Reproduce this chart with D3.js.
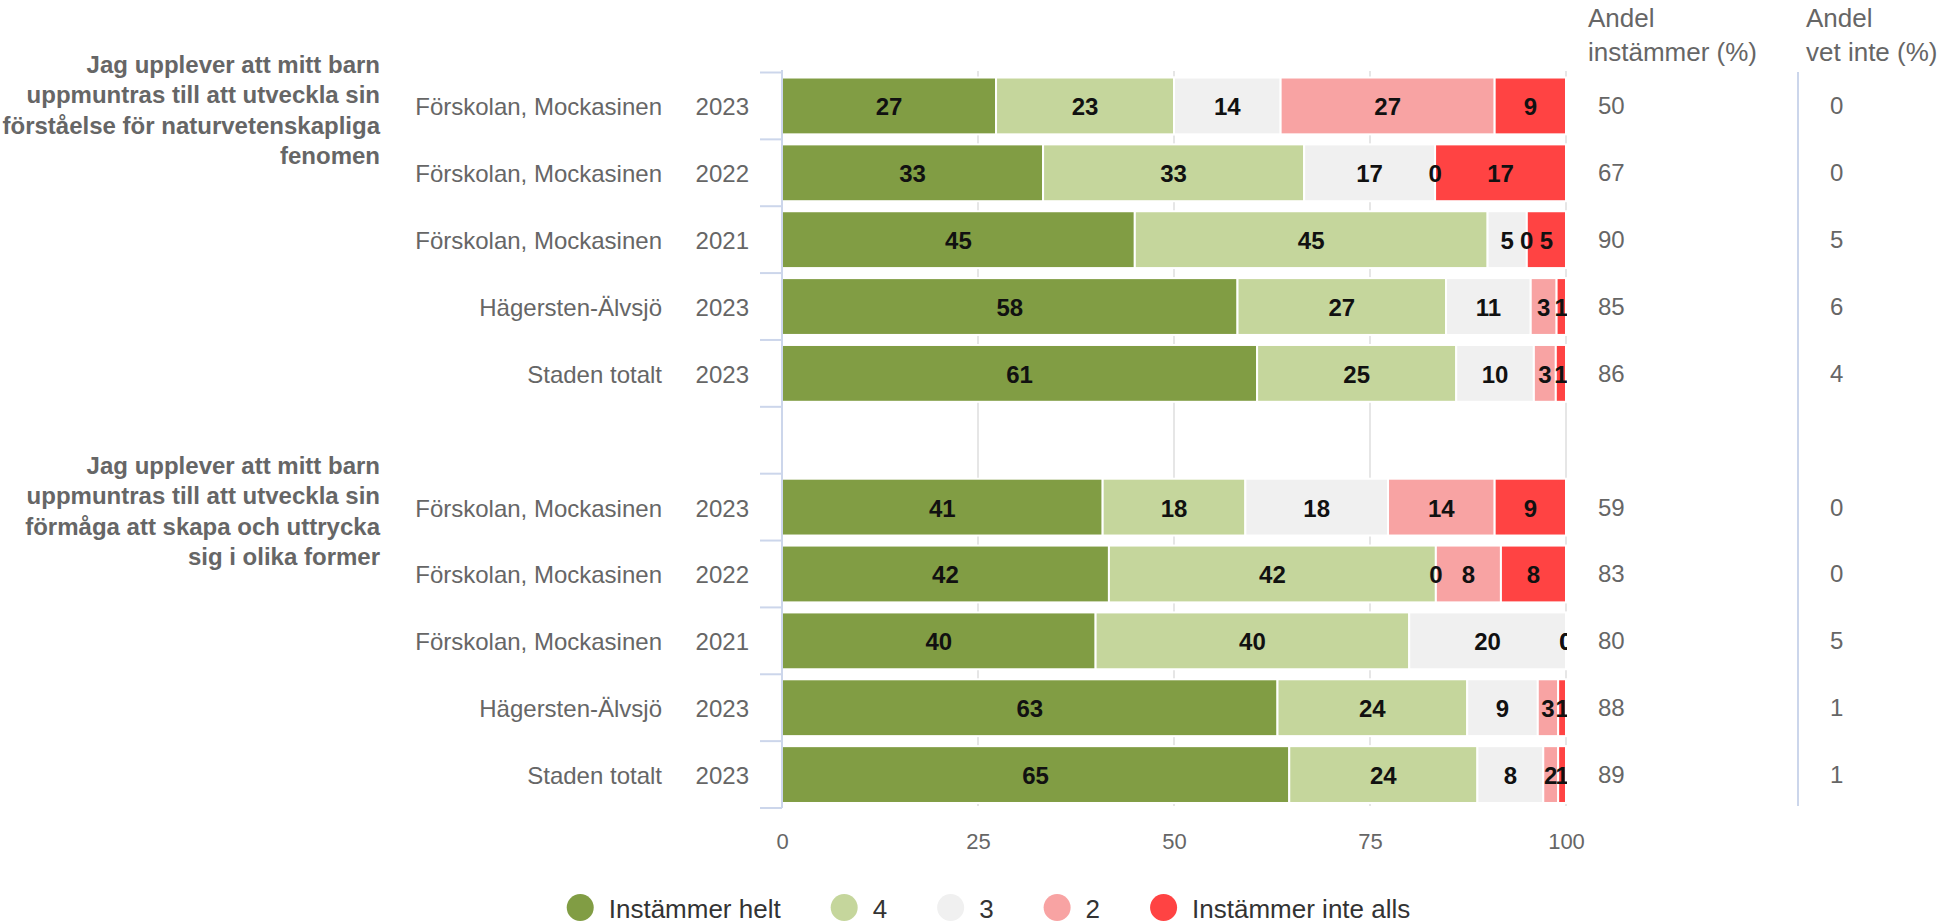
<!DOCTYPE html>
<html>
<head>
<meta charset="utf-8">
<script src="https://cdn.jsdelivr.net/npm/d3@7"></script>
<style>
  body { margin: 0; background: #fff; }
  svg { font-family: "Liberation Sans", Arial, sans-serif; display: block; }
</style>
</head>
<body>
<svg id="chart"></svg>
<script>
// question texts, already broken into lines
const questions = [
  ['Jag upplever att mitt barn', 'uppmuntras till att utveckla sin', 'förståelse för naturvetenskapliga', 'fenomen'],
  ['Jag upplever att mitt barn', 'uppmuntras till att utveckla sin', 'förmåga att skapa och uttrycka', 'sig i olika former']
];
const units = [
  'Förskolan, Mockasinen', 'Förskolan, Mockasinen', 'Förskolan, Mockasinen', 'Hägersten-Älvsjö', 'Staden totalt',
  'Förskolan, Mockasinen', 'Förskolan, Mockasinen', 'Förskolan, Mockasinen', 'Hägersten-Älvsjö', 'Staden totalt'
];
const years = [2023, 2022, 2021, 2023, 2023, 2023, 2022, 2021, 2023, 2023];

// share of answers (%) per row
const instammerHelt = [27.3, 33.3, 45, 58.1, 60.6, 40.9, 41.7, 40, 63.2, 64.7];
const fyra = [22.7, 33.3, 45, 26.6, 25.4, 18.2, 41.7, 40, 24.2, 24.0];
const tre = [13.6, 16.7, 5, 10.8, 9.9, 18.2, 0, 20, 9.0, 8.4];
const tva = [27.3, 0, 0, 3.3, 2.8, 13.6, 8.3, 0, 2.6, 1.9];
const instammerInteAlls = [9.1, 16.7, 5, 1.2, 1.3, 9.1, 8.3, 0, 1.0, 1.0];

const andelInstammer = [50, 67, 90, 85, 86, 59, 83, 80, 88, 89];
const andelVetInte = [0, 0, 5, 6, 4, 0, 0, 5, 1, 1];

const seriesNames = ['Instämmer helt', '4', '3', '2', 'Instämmer inte alls'];
const seriesColors = ['#819d44', '#c5d69c', '#f0f0f0', '#f8a3a3', '#ff4343'];
const xTicks = [0, 25, 50, 75, 100];

const W = 1959, H = 923;
const plot = { left: 782, right: 1566, top: 71, bottom: 806 };

const svg = d3.select('#chart').attr('width', W).attr('height', H);

// rows, with an empty band between the two questions
const rows = units.map((u, i) => ({
  id: 'r' + i,
  q: Math.floor(i / 5),
  unit: u,
  year: years[i],
  vals: [instammerHelt[i], fyra[i], tre[i], tva[i], instammerInteAlls[i]],
  inst: andelInstammer[i],
  vet: andelVetInte[i]
}));
const domain = rows.slice(0, 5).map(d => d.id).concat(['gap'], rows.slice(5).map(d => d.id));

const x = d3.scaleLinear().domain([0, 100]).range([plot.left, plot.right]);
const y = d3.scaleBand()
  .domain(domain)
  .range([plot.top + 1.5, plot.bottom + 2])
  .paddingInner(0.15)
  .paddingOuter(0.075);

// gridlines
svg.append('g')
  .selectAll('line')
  .data(xTicks.slice(1))
  .enter()
  .append('line')
  .attr('x1', d => x(d)).attr('x2', d => x(d))
  .attr('y1', plot.top).attr('y2', plot.bottom)
  .attr('stroke', '#e6e6e6')
  .attr('stroke-width', 2);

// stacked bars
const stacked = rows.map(r => {
  let acc = 0;
  return r.vals.map((v, k) => {
    const s = { row: r, k: k, x0: acc, x1: acc + v, v: v };
    acc += v;
    return s;
  });
});

const barG = svg.append('g');
stacked.forEach(segs => {
  barG.selectAll(null)
    .data(segs.filter(s => s.v > 0))
    .enter()
    .append('rect')
    .attr('x', s => x(s.x0))
    .attr('y', s => y(s.row.id))
    .attr('width', s => x(s.x1) - x(s.x0))
    .attr('height', y.bandwidth())
    .attr('fill', s => seriesColors[s.k])
    .attr('stroke', '#fff')
    .attr('stroke-width', 2);
});

// data labels
svg.append('clipPath').attr('id', 'plotClip')
  .append('rect')
  .attr('x', plot.left).attr('y', 0)
  .attr('width', plot.right - plot.left + 1).attr('height', H);

const labelG = svg.append('g').attr('clip-path', 'url(#plotClip)');
stacked.forEach(segs => {
  labelG.selectAll(null)
    .data(segs)
    .enter()
    .append('text')
    .attr('x', s => x((s.x0 + s.x1) / 2))
    .attr('y', s => y(s.row.id) + y.bandwidth() / 2 + 1)
    .attr('dy', '0.35em')
    .attr('text-anchor', 'middle')
    .attr('font-size', 24)
    .attr('font-weight', 'bold')
    .attr('fill', '#111')
    .text(s => d3.format('.0f')(s.v));
});

// left axis line and ticks at band edges
const step = y.step();
const edges = domain.map(d => y(d) - y.paddingInner() * step / 2);
edges.push(edges[edges.length - 1] + step);
const axisG = svg.append('g');
axisG.append('line')
  .attr('x1', plot.left).attr('x2', plot.left)
  .attr('y1', plot.top - 1).attr('y2', plot.bottom + 2)
  .attr('stroke', '#ccd6eb').attr('stroke-width', 2);
axisG.selectAll('.tick')
  .data(edges)
  .enter()
  .append('line')
  .attr('x1', plot.left - 22).attr('x2', plot.left)
  .attr('y1', d => d).attr('y2', d => d)
  .attr('stroke', '#ccd6eb').attr('stroke-width', 2);

// row labels
const rowLab = svg.append('g').attr('font-size', 24).attr('fill', '#666');
rowLab.selectAll('.unit')
  .data(rows)
  .enter()
  .append('text')
  .attr('x', 662)
  .attr('y', d => y(d.id) + y.bandwidth() / 2 + 1)
  .attr('dy', '0.35em')
  .attr('text-anchor', 'end')
  .text(d => d.unit);
rowLab.selectAll('.year')
  .data(rows)
  .enter()
  .append('text')
  .attr('x', 749)
  .attr('y', d => y(d.id) + y.bandwidth() / 2 + 1)
  .attr('dy', '0.35em')
  .attr('text-anchor', 'end')
  .text(d => d.year);

// question labels
questions.forEach((lines, qi) => {
  const top = edges[qi * 6];
  const t = svg.append('text')
    .attr('font-size', 24)
    .attr('font-weight', 'bold')
    .attr('fill', '#666')
    .attr('text-anchor', 'end');
  lines.forEach((ln, li) => {
    t.append('tspan')
      .attr('x', 380)
      .attr('y', top - 8 + li * 30.3)
      .attr('dy', '0.35em')
      .text(ln);
  });
});

// x axis
const xAxis = svg.append('g')
  .attr('transform', `translate(0,${plot.bottom})`)
  .call(d3.axisBottom(x).tickValues(xTicks).tickSize(0));
xAxis.select('.domain').remove();
xAxis.selectAll('text')
  .attr('y', 35)
  .attr('dy', '0.35em')
  .attr('font-size', 22)
  .attr('font-family', '"Liberation Sans", Arial, sans-serif')
  .attr('fill', '#666');

// right hand columns
const colG = svg.append('g').attr('fill', '#666');
const headers = [
  { x: 1588, lines: ['Andel', 'instämmer (%)'] },
  { x: 1806, lines: ['Andel', 'vet inte (%)'] }
];
headers.forEach(h => {
  h.lines.forEach((ln, li) => {
    colG.append('text')
      .attr('x', h.x)
      .attr('y', 18 + li * 34)
      .attr('dy', '0.35em')
      .attr('font-size', 26)
      .text(ln);
  });
});
colG.selectAll('.inst')
  .data(rows)
  .enter()
  .append('text')
  .attr('x', 1598)
  .attr('y', d => y(d.id) + y.bandwidth() / 2)
  .attr('dy', '0.35em')
  .attr('font-size', 24)
  .text(d => d.inst);
colG.selectAll('.vet')
  .data(rows)
  .enter()
  .append('text')
  .attr('x', 1830)
  .attr('y', d => y(d.id) + y.bandwidth() / 2)
  .attr('dy', '0.35em')
  .attr('font-size', 24)
  .text(d => d.vet);
svg.append('line')
  .attr('x1', 1798).attr('x2', 1798)
  .attr('y1', plot.top + 1).attr('y2', plot.bottom)
  .attr('stroke', '#ccd6eb').attr('stroke-width', 2);

// legend, roughly centered on the chart
const legend = svg.append('g');
const items = legend.selectAll('g')
  .data(seriesNames)
  .enter()
  .append('g');
items.append('circle')
  .attr('r', 13.5)
  .attr('cx', 13.5)
  .attr('cy', -1.5)
  .attr('fill', (d, i) => seriesColors[i]);
items.append('text')
  .attr('x', 42)
  .attr('dy', '0.35em')
  .attr('font-size', 26)
  .attr('fill', '#333')
  .text(d => d);
let lx = 0;
items.each(function () {
  const g = d3.select(this);
  g.attr('transform', `translate(${lx},0)`);
  lx += 42 + g.select('text').node().getComputedTextLength() + 50;
});
const legendW = lx - 50;
legend.attr('transform', `translate(${(W - legendW) / 2 + 9},909)`);
</script>
</body>
</html>
